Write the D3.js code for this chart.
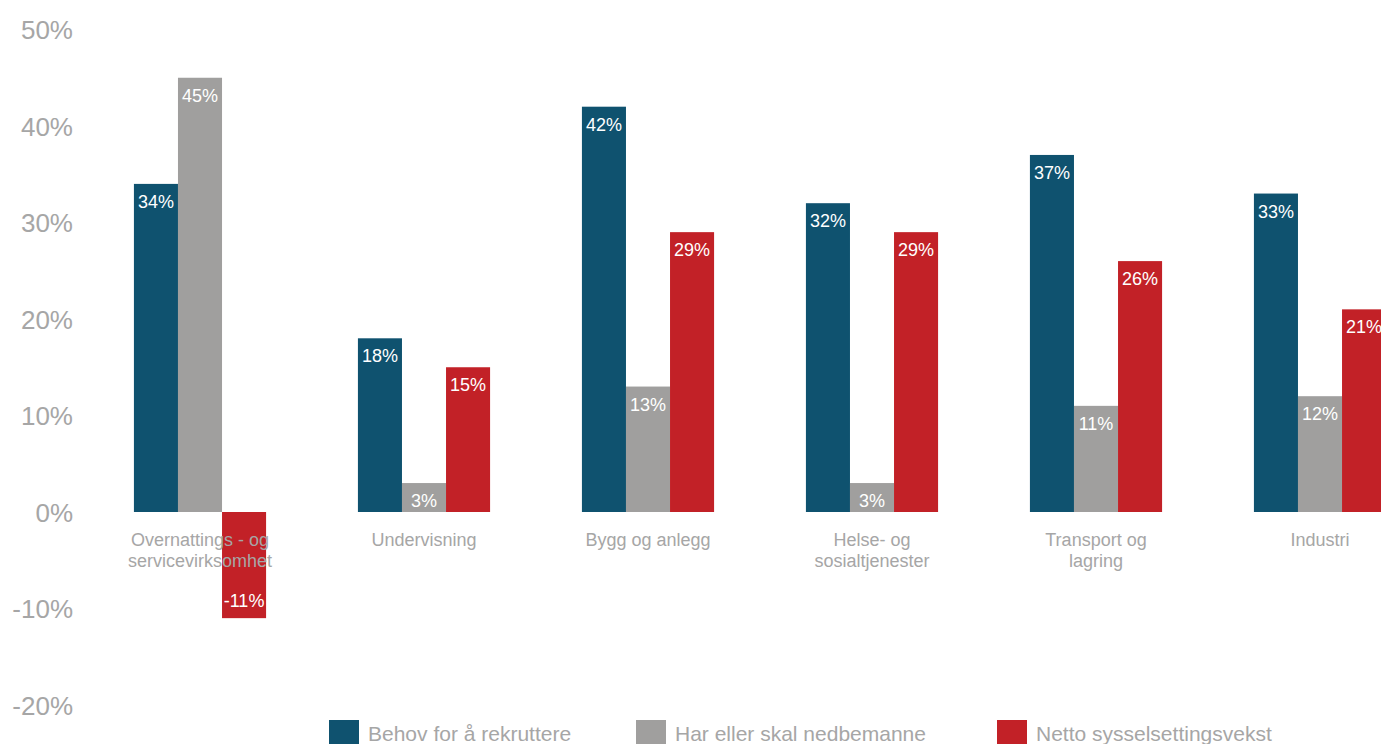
<!DOCTYPE html>
<html>
<head>
<meta charset="utf-8">
<script src="https://cdn.jsdelivr.net/npm/d3@7"></script>
<style>
  html, body { margin: 0; padding: 0; background: #ffffff; overflow: hidden; }
  svg { display: block; font-family: "Liberation Sans", Arial, sans-serif; }
</style>
</head>
<body>
<svg id="chart" width="1381" height="744"></svg>
<script>
// Sectors (line breaks marked with \n)
const categories = [
  "Overnattings - og\nservicevirksomhet",
  "Undervisning",
  "Bygg og anlegg",
  "Helse- og\nsosialtjenester",
  "Transport og\nlagring",
  "Industri"
];

// Series names
const seriesNames = [
  "Behov for å rekruttere",
  "Har eller skal nedbemanne",
  "Netto sysselsettingsvekst"
];

// Values in percent, one array per series
const recruitValues  = [34, 18, 42, 32, 37, 33];
const downsizeValues = [45, 3, 13, 3, 11, 12];
const netGrowthValues = [-11, 15, 29, 29, 26, 21];

// Y axis ticks
const yTicks = [-20, -10, 0, 10, 20, 30, 40, 50];

const seriesColors = ["#0f526f", "#a09f9e", "#c22127"];
const textGray = "#a6a6a6";

const svg = d3.select("#chart");

const seriesData = [recruitValues, downsizeValues, netGrowthValues];

const x0 = d3.scaleBand()
  .domain(categories)
  .range([88, 1432])
  .paddingInner(0.41)
  .paddingOuter(0.205);

const x1 = d3.scaleBand()
  .domain(seriesNames)
  .range([0, x0.bandwidth()])
  .padding(0);

const y = d3.scaleLinear()
  .domain([-20, 50])
  .range([705, 29.5]);

// Y axis labels
const yAxis = d3.axisLeft(y)
  .tickValues(yTicks)
  .tickSize(0)
  .tickPadding(0)
  .tickFormat(d => d + "%");

const yG = svg.append("g")
  .attr("transform", "translate(73,0)")
  .call(yAxis);
yG.select(".domain").remove();
yG.selectAll("text")
  .attr("fill", textGray)
  .attr("font-size", 26)
  .attr("font-family", "Liberation Sans, Arial, sans-serif")
  .attr("dy", "0.35em");

// Bars
const groups = svg.append("g").selectAll("g")
  .data(categories)
  .join("g")
  .attr("transform", d => `translate(${x0(d)},0)`);

const barData = (c, ci) => seriesNames.map((s, si) => ({
  series: s, si, cat: c, value: seriesData[si][ci]
}));

groups.selectAll("rect")
  .data((c, ci) => barData(c, ci))
  .join("rect")
  .attr("x", d => x1(d.series))
  .attr("width", x1.bandwidth())
  .attr("y", d => y(Math.max(0, d.value)))
  .attr("height", d => Math.abs(y(d.value) - y(0)))
  .attr("fill", d => seriesColors[d.si]);

// Category labels below the zero line
const catG = svg.append("g");
categories.forEach((c) => {
  const lines = c.split("\n");
  const t = catG.append("text")
    .attr("x", x0(c) + x0.bandwidth() / 2)
    .attr("y", y(0) + 34)
    .attr("text-anchor", "middle")
    .attr("fill", textGray)
    .attr("font-size", 18);
  lines.forEach((ln, i) => {
    t.append("tspan")
      .attr("x", x0(c) + x0.bandwidth() / 2)
      .attr("dy", i === 0 ? 0 : 21)
      .text(ln);
  });
});

// Value labels inside bar ends
groups.selectAll("text.val")
  .data((c, ci) => barData(c, ci))
  .join("text")
  .attr("class", "val")
  .attr("x", d => x1(d.series) + x1.bandwidth() / 2)
  .attr("y", d => d.value >= 0 ? y(d.value) + 24 : y(d.value) - 11)
  .attr("text-anchor", "middle")
  .attr("fill", "#ffffff")
  .attr("font-size", 18)
  .text(d => d.value + "%");

// Legend
const legendX = [329, 636, 997];
const legend = svg.append("g");
seriesNames.forEach((s, i) => {
  legend.append("rect")
    .attr("x", legendX[i])
    .attr("y", 720)
    .attr("width", 30)
    .attr("height", 30)
    .attr("fill", seriesColors[i]);
  legend.append("text")
    .attr("x", legendX[i] + 39)
    .attr("y", 741)
    .attr("fill", textGray)
    .attr("font-size", 21)
    .text(s);
});
</script>
</body>
</html>
